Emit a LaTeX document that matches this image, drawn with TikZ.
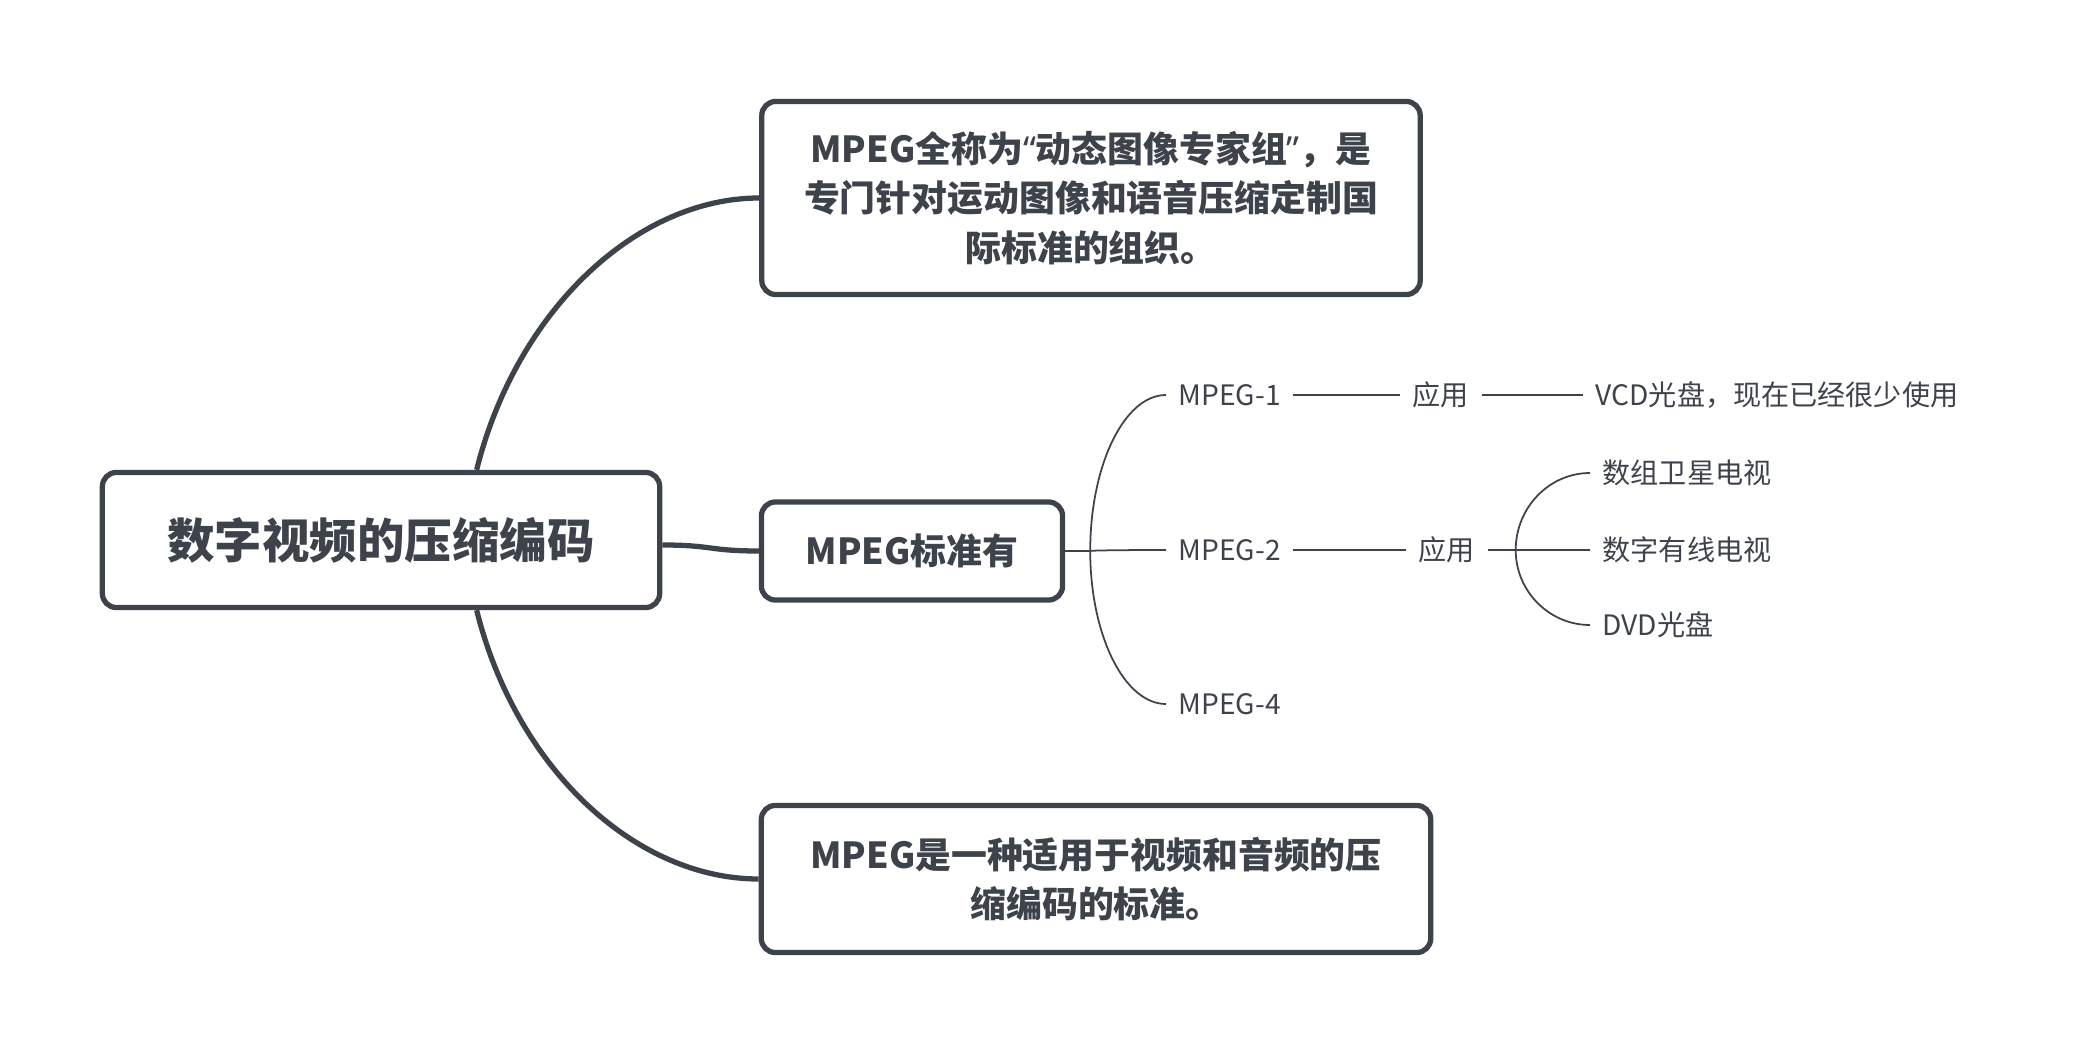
\documentclass[tikz,border=0pt]{standalone}
\usepackage{fontspec}
\setmainfont{Noto Sans CJK SC}
\newfontfamily\latinfont{Noto Sans}
\usepackage{xcolor}
\usepackage{tikz}
\usetikzlibrary{calc}
\definecolor{ink}{RGB}{62,67,75}

\begin{document}
\begin{tikzpicture}[x=0.01cm,y=-0.01cm,ink,
box/.style={draw=ink,line width=1.5pt,rounded corners=0.14cm,fill=white,align=center,font=\bfseries\fontsize{10.2}{14}\selectfont},
leaf/.style={anchor=west,inner sep=0.12cm,font=\fontsize{8}{10}\selectfont},
thick/.style={draw=ink,line width=1.5pt},
thin/.style={draw=ink,line width=0.5pt}]
\useasboundingbox (0,0) rectangle (2078,1052);
\node[box,minimum width=5.57cm,minimum height=1.35cm,font=\bfseries\fontsize{13.5}{16}\selectfont] (root) at (381,540) {数字视频的压缩编码};
\node[box,minimum width=6.58cm,minimum height=1.93cm] (desc) at (1091,198) {MPEG全称为{\latinfont “}动态图像专家组{\latinfont ”}，是\\专门针对运动图像和语音压缩定制国\\际标准的组织。};
\node[box,minimum width=3.01cm,minimum height=0.98cm] (std) at (912,551) {MPEG标准有};
\node[box,minimum width=6.69cm,minimum height=1.47cm] (def) at (1096,879) {MPEG是一种适用于视频和音频的压\\缩编码的标准。};
\node[leaf] (mpegone) at (1166,395) {MPEG-1};
\node[leaf] (mpegtwo) at (1166,550) {MPEG-2};
\node[leaf] (mpegfour) at (1166,704) {MPEG-4};
\node[leaf] (appone) at (1400,395) {应用};
\node[leaf] (apptwo) at (1406,550) {应用};
\node[leaf] (vcd) at (1583,395) {VCD光盘，现在已经很少使用};
\node[leaf] (sat) at (1590,473) {数组卫星电视};
\node[leaf] (cable) at (1590,550) {数字有线电视};
\node[leaf] (dvd) at (1590,625) {DVD光盘};
\draw[thick] ($(root.north west)!0.67!(root.north east)$) .. controls +(40,-160) and +(-122,0) .. (desc.west);
\draw[thick] ($(root.south west)!0.67!(root.south east)$) .. controls +(40,160) and +(-122,0) .. (def.west);
\draw[thick] ($(root.east)+(0,5)$) .. controls +(50,0) and +(-50,0) .. (std.west);
\coordinate (fork) at ($(std.east)+(25,0)$);
\draw[thin] (std.east) -- (fork);
\foreach \n in {mpegone,mpegtwo,mpegfour}
\draw[thin] (fork) .. controls ($(fork)!0.55!(fork|-\n.west)$) and ($(\n.west)!0.55!(fork|-\n.west)$) .. (\n.west);
\draw[thin] (mpegone) -- (appone);
\draw[thin] (appone) -- (vcd);
\draw[thin] (mpegtwo) -- (apptwo);
\coordinate (forktwo) at ($(apptwo.east)+(28,0)$);
\draw[thin] (apptwo.east) -- (forktwo);
\foreach \n in {sat,cable,dvd}
\draw[thin] (forktwo) .. controls ($(forktwo)!0.55!(forktwo|-\n.west)$) and ($(\n.west)!0.55!(forktwo|-\n.west)$) .. (\n.west);
\end{tikzpicture}
\end{document}
